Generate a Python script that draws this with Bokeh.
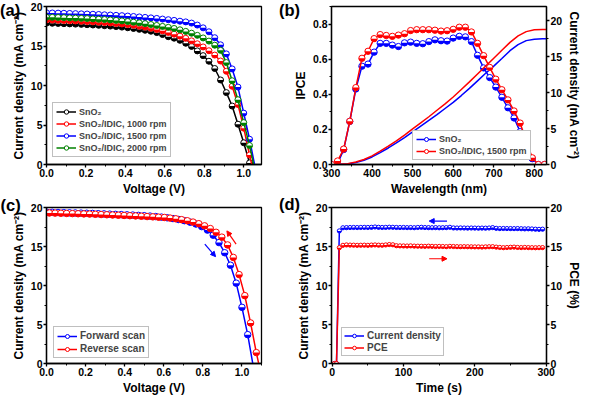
import math
from bokeh.plotting import figure
from bokeh.models import (Range1d, LinearAxis, Legend, LegendItem, Arrow, NormalHead,
                          SingleIntervalTicker, NumeralTickFormatter, GridBox, Div)
from bokeh.embed import file_html
from bokeh.resources import INLINE

FONT = "Liberation Sans"
BLACK, RED, BLUE, GREEN = "#000000", "#ff0000", "#0000ff", "#008000"

# ---------------- (a) J-V curves ----------------
voltage_a = [0.0, 0.0294, 0.0588, 0.0882, 0.1176, 0.1471, 0.1765, 0.2059, 0.2353, 0.2647,
             0.2941, 0.3235, 0.3529, 0.3824, 0.4118, 0.4412, 0.4706, 0.5, 0.5294, 0.5588,
             0.5882, 0.6176, 0.6471, 0.6765, 0.7059, 0.7353, 0.7647, 0.7941, 0.8235, 0.8529,
             0.8824, 0.9118, 0.9412, 0.9706, 1.0, 1.0294, 1.0588]
j_sno2 = [17.90, 17.88, 17.86, 17.83, 17.80, 17.77, 17.74, 17.70, 17.66, 17.62,
          17.57, 17.52, 17.46, 17.39, 17.31, 17.22, 17.11, 16.99, 16.87, 16.70,
          16.45, 16.18, 15.99, 15.72, 15.35, 14.95, 14.38, 13.78, 13.07, 12.15,
          10.70, 9.10, 7.40, 5.10, 2.75, 0.20]
j_1000 = [18.30, 18.28, 18.26, 18.23, 18.20, 18.17, 18.14, 18.10, 18.06, 18.02,
          17.97, 17.92, 17.86, 17.79, 17.71, 17.62, 17.51, 17.39, 17.25, 17.10,
          16.92, 16.72, 16.50, 16.25, 15.97, 15.65, 15.28, 14.88, 14.40, 13.85,
          13.10, 11.80, 9.90, 7.60, 4.60, 1.20, -2.0]
j_1500 = [19.20, 19.18, 19.16, 19.14, 19.12, 19.10, 19.07, 19.05, 19.02, 18.99,
          18.95, 18.92, 18.88, 18.84, 18.79, 18.74, 18.68, 18.62, 18.56, 18.49,
          18.41, 18.33, 18.24, 18.14, 18.05, 17.90, 17.65, 17.30, 16.80, 16.05,
          15.15, 14.00, 12.10, 9.80, 6.50, 3.20, -0.50]
j_2000 = [18.65, 18.63, 18.61, 18.59, 18.56, 18.53, 18.50, 18.47, 18.43, 18.39,
          18.35, 18.30, 18.24, 18.18, 18.10, 18.02, 17.93, 17.83, 17.72, 17.60,
          17.48, 17.36, 17.22, 17.05, 16.85, 16.62, 16.35, 16.02, 15.62, 15.10,
          14.45, 12.90, 10.60, 8.20, 5.30, 2.40, -1.0]
labels_a = ["SnO\u2082", "SnO\u2082/IDIC, 1000 rpm", "SnO\u2082/IDIC, 1500 rpm", "SnO\u2082/IDIC, 2000 rpm"]

# ---------------- (b) IPCE ----------------
wavelength = [300, 315, 330, 345, 360, 375, 390, 405, 420, 435, 450, 465, 480, 495, 510, 525,
              540, 555, 570, 585, 600, 615, 630, 645, 660, 675, 690, 705, 720, 735, 750, 765,
              780, 795, 810, 825]
ipce_sno2 = [0.0, 0.005, 0.085, 0.245, 0.43, 0.56, 0.572, 0.64, 0.69, 0.69, 0.68, 0.672,
             0.693, 0.697, 0.69, 0.688, 0.70, 0.71, 0.705, 0.703, 0.72, 0.73, 0.727, 0.70,
             0.622, 0.55, 0.495, 0.441, 0.383, 0.323, 0.265, 0.187, 0.105, 0.033, 0.0, 0.0]
ipce_idic = [0.0, 0.02, 0.088, 0.246, 0.438, 0.605, 0.645, 0.717, 0.74, 0.735, 0.73, 0.737,
             0.745, 0.763, 0.768, 0.768, 0.768, 0.765, 0.76, 0.762, 0.77, 0.782, 0.782, 0.755,
             0.69, 0.62, 0.553, 0.486, 0.426, 0.368, 0.305, 0.236, 0.132, 0.038, 0.0, 0.0]
wl_int = [300, 320, 340, 360, 380, 400, 420, 440, 460, 480, 500, 520, 540, 560, 580, 600,
          620, 640, 660, 680, 700, 720, 740, 760, 780, 800, 820, 830]
jint_sno2 = [0.0, 0.01, 0.08, 0.28, 0.6, 1.05, 1.65, 2.3, 3.0, 3.75, 4.55, 5.35, 6.15, 6.95,
             7.8, 8.65, 9.6, 10.6, 11.65, 12.7, 13.7, 14.75, 15.85, 16.7, 17.25, 17.45, 17.5, 17.5]
jint_idic = [0.0, 0.02, 0.12, 0.35, 0.7, 1.2, 1.85, 2.55, 3.3, 4.1, 4.95, 5.8, 6.65, 7.55,
             8.45, 9.4, 10.45, 11.5, 12.6, 13.7, 14.8, 15.9, 17.0, 17.9, 18.5, 18.75, 18.8, 18.8]
labels_b = ["SnO\u2082", "SnO\u2082/IDIC, 1500 rpm"]

# ---------------- (c) hysteresis ----------------
voltage_fwd = voltage_a
j_fwd = [19.40, 19.38, 19.36, 19.34, 19.32, 19.30, 19.28, 19.26, 19.24, 19.21,
         19.18, 19.15, 19.12, 19.09, 19.06, 19.03, 18.99, 18.95, 18.90, 18.84,
         18.77, 18.68, 18.58, 18.46, 18.31, 18.12, 17.88, 17.55, 17.10, 16.45,
         15.50, 14.20, 12.60, 10.30, 7.20, 3.70, -0.5]
voltage_rev = [0.0147, 0.0441, 0.0735, 0.1029, 0.1324, 0.1618, 0.1912, 0.2206, 0.25, 0.2794,
               0.3088, 0.3382, 0.3676, 0.3971, 0.4265, 0.4559, 0.4853, 0.5147, 0.5441, 0.5735,
               0.6029, 0.6324, 0.6618, 0.6912, 0.7206, 0.75, 0.7794, 0.8088, 0.8382, 0.8676,
               0.8971, 0.9265, 0.9559, 0.9853, 1.0147, 1.0441, 1.0735, 1.1029]
j_rev = [19.30, 19.28, 19.26, 19.24, 19.22, 19.20, 19.18, 19.16, 19.13, 19.10,
         19.07, 19.04, 19.01, 18.98, 18.95, 18.92, 18.88, 18.84, 18.80, 18.76,
         18.72, 18.64, 18.55, 18.44, 18.30, 18.13, 17.92, 17.65, 17.30, 16.82,
         16.20, 15.20, 13.60, 11.40, 8.70, 5.20, 1.40, -2.0]
labels_c = ["Forward scan", "Reverse scan"]

# ---------------- (d) stability ----------------
time_s = [3, 6, 10, 15, 20, 25, 30, 35, 40, 45, 50, 55, 60, 65, 70, 75, 80, 85, 90, 95,
          100, 105, 110, 115, 120, 125, 130, 135, 140, 145, 150, 155, 160, 165, 170, 175,
          180, 185, 190, 195, 200, 205, 210, 215, 220, 225, 230, 235, 240, 245, 250, 255,
          260, 265, 270, 275, 280, 285, 290, 295]
j_time = [0.0, 0.0, 17.0, 17.4, 17.42, 17.43, 17.44, 17.43, 17.44, 17.45, 17.44, 17.46,
          17.5, 17.46, 17.44, 17.45, 17.47, 17.46, 17.44, 17.43, 17.44, 17.42, 17.43, 17.41,
          17.44, 17.46, 17.43, 17.42, 17.41, 17.42, 17.4, 17.41, 17.42, 17.46, 17.38, 17.37,
          17.38, 17.37, 17.36, 17.37, 17.36, 17.35, 17.36, 17.35, 17.37, 17.42, 17.33, 17.3,
          17.31, 17.3, 17.3, 17.29, 17.3, 17.28, 17.26, 17.27, 17.25, 17.22, 17.2, 17.22]
pce_time = [0.0, 0.0, 14.85, 15.15, 15.2, 15.18, 15.17, 15.15, 15.16, 15.17, 15.15, 15.18,
            15.2, 15.17, 15.16, 15.2, 15.25, 15.22, 15.1, 15.08, 15.07, 15.06, 15.08, 15.05,
            15.04, 15.03, 15.02, 15.04, 15.02, 15.0, 15.01, 15.0, 14.98, 15.02, 15.0, 14.98,
            14.97, 14.98, 14.97, 14.96, 14.95, 14.95, 14.93, 14.95, 14.97, 14.98, 14.92, 14.88,
            14.85, 14.87, 14.9, 14.92, 14.88, 14.86, 14.88, 14.86, 14.85, 14.84, 14.85, 14.86]
labels_d = ["Current density", "PCE"]

panel_tags = ["(a)", "(b)", "(c)", "(d)"]

JLABEL = "Current density (mA cm\u207b\u00b2)"


def balls(p, x, y, color, size, y_range_name="default"):
    sc = p.scatter(x, y, size=size, marker="circle", fill_color="white", line_color=color,
                   line_width=1.0, y_range_name=y_range_name)
    p.wedge(x, y, radius=size / 2.0, radius_units="screen", start_angle=math.pi,
            end_angle=2 * math.pi, fill_color=color, line_color=None, y_range_name=y_range_name)
    return sc


def style_axis(ax):
    ax.axis_line_width = 1.3
    ax.major_tick_line_width = 1.3
    ax.minor_tick_line_width = 1.0
    ax.major_tick_out = 3
    ax.major_tick_in = 0
    ax.minor_tick_out = 2
    ax.minor_tick_in = 0
    ax.major_label_standoff = 1
    ax.axis_label_standoff = 2
    ax.major_label_text_font = FONT
    ax.major_label_text_font_style = "bold"
    ax.major_label_text_font_size = "10.5px"
    ax.major_label_text_color = "black"
    ax.axis_label_text_font = FONT
    ax.axis_label_text_font_style = "bold"
    ax.axis_label_text_font_size = "12px"
    ax.axis_label_text_color = "black"


def make_fig(w, h, xr, yr, bl, br, bt, bb):
    p = figure(width=w, height=h, x_range=xr, y_range=yr, output_backend="svg",
               toolbar_location=None, min_border_left=bl, min_border_right=br,
               min_border_top=bt, min_border_bottom=bb)
    p.xgrid.visible = False
    p.ygrid.visible = False
    p.outline_line_color = "black"
    p.outline_line_width = 1.3
    p.background_fill_color = "white"
    p.border_fill_color = "white"
    return p


def make_legend(items, loc, font_size, h, spacing, padding, gw):
    lg = Legend(items=items, location=loc, label_text_font=FONT, label_text_font_style="bold",
                label_text_font_size=font_size, label_height=h, glyph_height=h, glyph_width=gw,
                spacing=spacing, padding=padding, margin=0, label_standoff=3,
                border_line_color="#808080", border_line_width=1,
                background_fill_color="white", background_fill_alpha=1.0)
    return lg


# ---------------- figure (a) ----------------
pa = make_fig(277, 199, Range1d(0, 1.09), Range1d(0, 20), 46, 15, 6, 34)
items = []
for lab, ys, col in zip(labels_a, [j_sno2, j_1000, j_1500, j_2000], [BLACK, RED, BLUE, GREEN]):
    xs = voltage_a[:len(ys)]
    ln = pa.line(xs, ys, line_color=col, line_width=1.5)
    sc = balls(pa, xs, ys, col, 6)
    items.append(LegendItem(label=lab, renderers=[ln, sc]))
pa.add_layout(make_legend(items, (6, 7), "9px", 11, 1, 3, 20))
pa.xaxis.axis_label = "Voltage (V)"
pa.yaxis.axis_label = JLABEL
pa.xaxis.ticker = SingleIntervalTicker(interval=0.2, num_minor_ticks=2)
pa.yaxis.ticker = SingleIntervalTicker(interval=5, num_minor_ticks=2)
pa.xaxis.formatter = NumeralTickFormatter(format="0.0")
for ax in pa.axis:
    style_axis(ax)

# ---------------- figure (b) ----------------
pb = make_fig(307, 199, Range1d(300, 830), Range1d(0, 0.9), 54, 35, 5, 35)
pb.extra_y_ranges = {"jint": Range1d(0, 22)}
rax = LinearAxis(y_range_name="jint", axis_label=JLABEL)
pb.add_layout(rax, "right")
items = []
for lab, ys, yi, col in zip(labels_b, [ipce_sno2, ipce_idic], [jint_sno2, jint_idic], [BLUE, RED]):
    pb.line(wl_int, yi, line_color=col, line_width=1.5, y_range_name="jint")
    ln = pb.line(wavelength, ys, line_color=col, line_width=1.5)
    sc = balls(pb, wavelength, ys, col, 6.3)
    items.append(LegendItem(label=lab, renderers=[ln, sc]))
pb.add_layout(make_legend(items, (81, 4), "9px", 10, 2, 3, 20))
pb.xaxis.axis_label = "Wavelength (nm)"
pb.yaxis[0].axis_label = "IPCE"
pb.xaxis.ticker = SingleIntervalTicker(interval=100, num_minor_ticks=2)
pb.yaxis[0].ticker = SingleIntervalTicker(interval=0.2, num_minor_ticks=2)
pb.yaxis[0].formatter = NumeralTickFormatter(format="0.0")
rax.ticker = SingleIntervalTicker(interval=5, num_minor_ticks=2)
for ax in pb.axis:
    style_axis(ax)

# ---------------- figure (c) ----------------
pc = make_fig(277, 198, Range1d(0, 1.1), Range1d(0, 20), 46, 16, 8, 32)
items = []
for lab, xs, ys, col in zip(labels_c, [voltage_fwd, voltage_rev], [j_fwd, j_rev], [BLUE, RED]):
    ln = pc.line(xs[:len(ys)], ys, line_color=col, line_width=1.5)
    sc = balls(pc, xs[:len(ys)], ys, col, 6.5)
    items.append(LegendItem(label=lab, renderers=[ln, sc]))
pc.add_layout(make_legend(items, (7, 5), "10px", 10, 2, 3, 20))
pc.add_layout(Arrow(x_start=0.81, y_start=15.3, x_end=0.865, y_end=13.7, line_color=BLUE,
                    line_width=1.2, end=NormalHead(size=5, fill_color=BLUE, line_color=BLUE)))
pc.add_layout(Arrow(x_start=0.97, y_start=15.3, x_end=0.923, y_end=17.0, line_color=RED,
                    line_width=1.2, end=NormalHead(size=5, fill_color=RED, line_color=RED)))
pc.xaxis.axis_label = "Voltage (V)"
pc.yaxis.axis_label = JLABEL
pc.xaxis.ticker = SingleIntervalTicker(interval=0.2, num_minor_ticks=2)
pc.yaxis.ticker = SingleIntervalTicker(interval=5, num_minor_ticks=2)
pc.xaxis.formatter = NumeralTickFormatter(format="0.0")
for ax in pc.axis:
    style_axis(ax)

# ---------------- figure (d) ----------------
pd_ = make_fig(307, 198, Range1d(-1, 300.5), Range1d(0, 20), 54, 36, 7, 32)
pd_.extra_y_ranges = {"pce": Range1d(0, 20)}
rax2 = LinearAxis(y_range_name="pce", axis_label="PCE (%)")
pd_.add_layout(rax2, "right")
ln1 = pd_.line(time_s, j_time, line_color=BLUE, line_width=1.5)
sc1 = balls(pd_, time_s, j_time, BLUE, 4.2)
ln2 = pd_.line(time_s, pce_time, line_color=RED, line_width=1.5, y_range_name="pce")
sc2 = balls(pd_, time_s, pce_time, RED, 4.2, y_range_name="pce")
items = [LegendItem(label=labels_d[0], renderers=[ln1, sc1]),
         LegendItem(label=labels_d[1], renderers=[ln2, sc2])]
pd_.add_layout(make_legend(items, (10, 7), "10px", 9, 1, 2, 20))
pd_.add_layout(Arrow(x_start=161, y_start=18.26, x_end=136, y_end=18.26, line_color=BLUE,
                     line_width=1.2, end=NormalHead(size=5, fill_color=BLUE, line_color=BLUE)))
pd_.add_layout(Arrow(x_start=136, y_start=13.43, x_end=161, y_end=13.43, line_color=RED,
                     line_width=1.2, end=NormalHead(size=5, fill_color=RED, line_color=RED)))
pd_.xaxis.axis_label = "Time (s)"
pd_.yaxis[0].axis_label = JLABEL
pd_.xaxis.ticker = SingleIntervalTicker(interval=100, num_minor_ticks=2)
pd_.yaxis[0].ticker = SingleIntervalTicker(interval=5, num_minor_ticks=2)
rax2.ticker = SingleIntervalTicker(interval=5, num_minor_ticks=2)
for ax in pd_.axis:
    style_axis(ax)

# ---------------- panel tags as a transparent HTML layer over the grid ----------------
tag_pos = [(0, 2), (279, 2), (0.5, 197), (279, 196)]
spans = "".join(
    '<span style="position:absolute;left:%spx;top:%spx;font-family:\'Liberation Sans\',sans-serif;'
    'font-weight:bold;font-size:16.5px;line-height:1;color:#000;white-space:nowrap;">%s</span>'
    % (x, y, t) for t, (x, y) in zip(panel_tags, tag_pos))
tags = Div(text='<div style="position:relative;width:330px;height:230px;">' + spans + '</div>',
           width=330, height=230, margin=0,
           styles={"z-index": "10", "pointer-events": "none", "align-self": "start",
                   "justify-self": "start"})

grid = GridBox(children=[(pa, 0, 0), (pb, 0, 1), (pc, 1, 0), (pd_, 1, 1), (tags, 0, 0, 2, 2)])
open("out.html", "w").write(file_html(grid, INLINE))
